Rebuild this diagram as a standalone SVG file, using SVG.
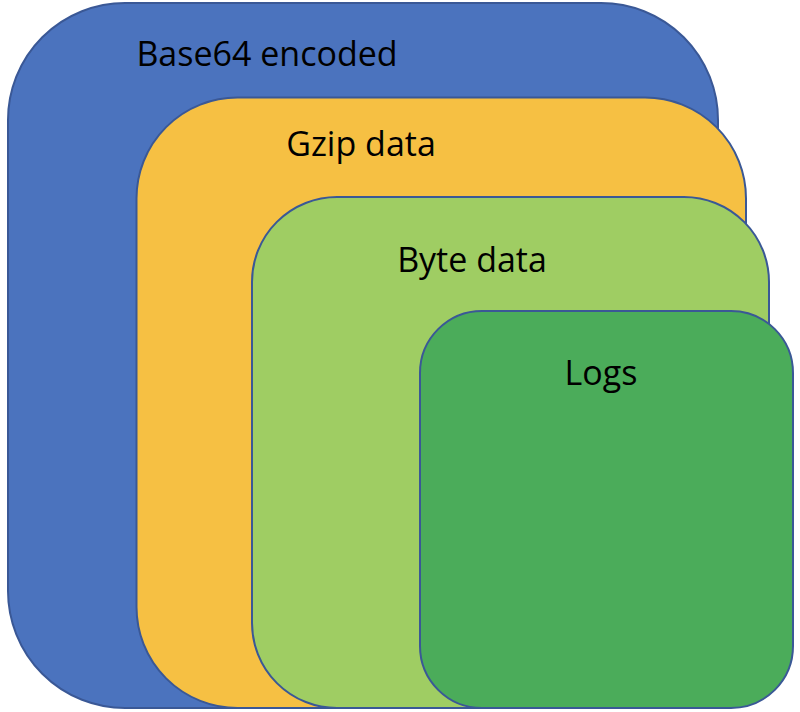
<svg xmlns="http://www.w3.org/2000/svg" width="800" height="712" viewBox="0 0 800 712">
  <style>
    .box { stroke: #3A5896; stroke-width: 2; }
    .lbl { font-family: "Open Sans", "Liberation Sans", sans-serif; font-size: 34px; fill: #000; text-anchor: middle; }
  </style>
  <rect x="0" y="0" width="800" height="712" fill="#FFFFFF"/>
  <g id="base64">
    <rect class="box" x="8" y="3" width="710" height="705" rx="117" ry="117" fill="#4B73BE"/>
    <text class="lbl" x="267" y="66">Base64 encoded</text>
  </g>
  <g id="gzip">
    <rect class="box" x="136.5" y="97.5" width="609.5" height="610.5" rx="101" ry="101" fill="#F6C043"/>
    <text class="lbl" x="361" y="156">Gzip data</text>
  </g>
  <g id="byte">
    <rect class="box" x="252" y="197" width="517" height="511" rx="85" ry="85" fill="#9FCD63"/>
    <text class="lbl" x="472" y="272">Byte data</text>
  </g>
  <g id="logs">
    <rect class="box" x="420" y="311" width="373" height="397" rx="62" ry="62" fill="#4BAC5A"/>
    <text class="lbl" x="601" y="385">Logs</text>
  </g>
  <g id="connectors"></g>
</svg>
